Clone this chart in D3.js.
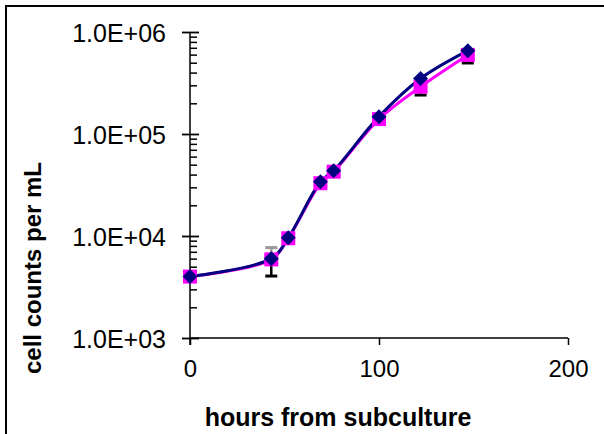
<!DOCTYPE html>
<html>
<head>
<meta charset="utf-8">
<script src="https://cdn.jsdelivr.net/npm/d3@7"></script>
<style>
  html, body { margin: 0; padding: 0; background: #fff; }
  svg { display: block; }
  text { font-family: "Liberation Sans", Arial, sans-serif; fill: #000; }
</style>
</head>
<body>
<svg id="chart" width="604" height="434"></svg>
<script>
// Hours after subculture at which each count was taken
const hours = [0, 43, 52, 69, 76, 100, 122, 147];
// Mean cell counts per mL, two cultures
const countsA = [4000, 5900, 9500, 32900, 42700, 140000, 291000, 596000]; // magenta squares
const countsB = [4000, 6000, 9600, 34000, 43600, 148000, 350000, 656000]; // navy diamonds
// Error bar ends (lower, drawn in black; upper, drawn in grey)
const errLow  = [null, 4050, null, null, null, 125000, 241000, 497000];
const errHigh = [null, 7700, null, null, null, null, null, null];
// Axis ticks
const xTicks = [0, 100, 200];
const yTicks = [1e3, 1e4, 1e5, 1e6];
const yTickLabels = ["1.0E+03", "1.0E+04", "1.0E+05", "1.0E+06"];

const svg = d3.select("#chart");

// Outer chart border
svg.append("rect")
  .attr("x", 6).attr("y", 6)
  .attr("width", 640).attr("height", 480)
  .attr("fill", "#fff").attr("stroke", "#000").attr("stroke-width", 2);

const x = d3.scaleLinear().domain([0, 200]).range([190, 568]);
const y = d3.scaleLog().domain([1e3, 1e6]).range([338, 32]);

const axisColor = "#000";

// Minor log ticks (2..9 of each decade), drawn inside the plot
const minor = [];
for (let e = 3; e < 6; e++) for (let m = 2; m <= 9; m++) minor.push(m * Math.pow(10, e));

const gAxes = svg.append("g");

gAxes.append("g")
  .attr("transform", `translate(${x(0)},0)`)
  .call(d3.axisRight(y).tickValues(minor).tickSize(7).tickFormat(""))
  .call(g => g.select(".domain").remove())
  .call(g => g.selectAll("line").attr("stroke", axisColor).attr("stroke-width", 1.5));

gAxes.append("g")
  .attr("transform", `translate(${x(0)},0)`)
  .call(d3.axisRight(y).tickValues(yTicks).tickSize(9).tickFormat(""))
  .call(g => g.select(".domain").remove())
  .call(g => g.selectAll("line").attr("stroke", axisColor).attr("stroke-width", 1.8));

gAxes.append("g")
  .attr("transform", `translate(${x(0)},0)`)
  .call(d3.axisLeft(y).tickValues(yTicks).tickSize(8).tickPadding(16)
    .tickFormat((d, i) => yTickLabels[i]))
  .call(g => g.select(".domain").remove())
  .call(g => g.selectAll("line").attr("stroke", axisColor).attr("stroke-width", 1.8))
  .call(g => g.selectAll("text").attr("font-size", 25).attr("font-family", null).attr("dy", "0.36em"));

gAxes.append("g")
  .attr("transform", `translate(0,${y(1e3)})`)
  .call(d3.axisBottom(x).tickValues(xTicks).tickSize(7).tickPadding(15))
  .call(g => g.select(".domain").remove())
  .call(g => g.selectAll("line").attr("stroke", axisColor).attr("stroke-width", 1.5))
  .call(g => g.selectAll("text").attr("font-size", 24).attr("font-family", null).attr("dy", "0.72em"));

// Axis lines
gAxes.append("line")
  .attr("x1", x(0)).attr("x2", x(0)).attr("y1", y(1e6)).attr("y2", y(1e3) + 7)
  .attr("stroke", axisColor).attr("stroke-width", 1.5);
gAxes.append("line")
  .attr("x1", x(0)).attr("x2", x(200)).attr("y1", y(1e3)).attr("y2", y(1e3))
  .attr("stroke", axisColor).attr("stroke-width", 1.5);

// Axis titles
svg.append("text")
  .attr("x", 338).attr("y", 426)
  .attr("text-anchor", "middle")
  .attr("font-size", 25).attr("font-weight", "bold")
  .text("hours from subculture");

svg.append("text")
  .attr("transform", "translate(41,268) rotate(-90)")
  .attr("text-anchor", "middle")
  .attr("font-size", 24).attr("font-weight", "bold")
  .text("cell counts per mL");

// Smoothed connecting lines
const line = d3.line()
  .x(d => x(d[0])).y(d => y(d[1]))
  .curve(d3.curveCatmullRom.alpha(0.5));

const ptsA = hours.map((h, i) => [h, countsA[i]]);
const ptsB = hours.map((h, i) => [h, countsB[i]]);

svg.append("path").datum(ptsA).attr("d", line)
  .attr("fill", "none").attr("stroke", "#ff00ff").attr("stroke-width", 3);
svg.append("path").datum(ptsB).attr("d", line)
  .attr("fill", "none").attr("stroke", "#000080").attr("stroke-width", 3);

// Error bars
const capW = 12;
function errBar(i, to, from, color) {
  const g = svg.append("g");
  g.append("line")
    .attr("x1", x(hours[i])).attr("x2", x(hours[i]))
    .attr("y1", y(from)).attr("y2", y(to))
    .attr("stroke", color).attr("stroke-width", 2.5);
  g.append("line")
    .attr("x1", x(hours[i]) - capW / 2).attr("x2", x(hours[i]) + capW / 2)
    .attr("y1", y(to)).attr("y2", y(to))
    .attr("stroke", color).attr("stroke-width", 3);
}
errHigh.forEach((v, i) => { if (v != null) errBar(i, v, countsB[i], "#999999"); });
errLow.forEach((v, i) => { if (v != null) errBar(i, v, countsA[i], "#000000"); });

// Markers
svg.append("g").selectAll("rect").data(ptsA).join("rect")
  .attr("x", d => x(d[0]) - 7).attr("y", d => y(d[1]) - 7)
  .attr("width", 14).attr("height", 14)
  .attr("fill", "#ff00ff");

svg.append("g").selectAll("path").data(ptsB).join("path")
  .attr("transform", d => `translate(${x(d[0])},${y(d[1])})`)
  .attr("d", "M0,-7.5L7.5,0L0,7.5L-7.5,0Z")
  .attr("fill", "#000080");
</script>
</body>
</html>
